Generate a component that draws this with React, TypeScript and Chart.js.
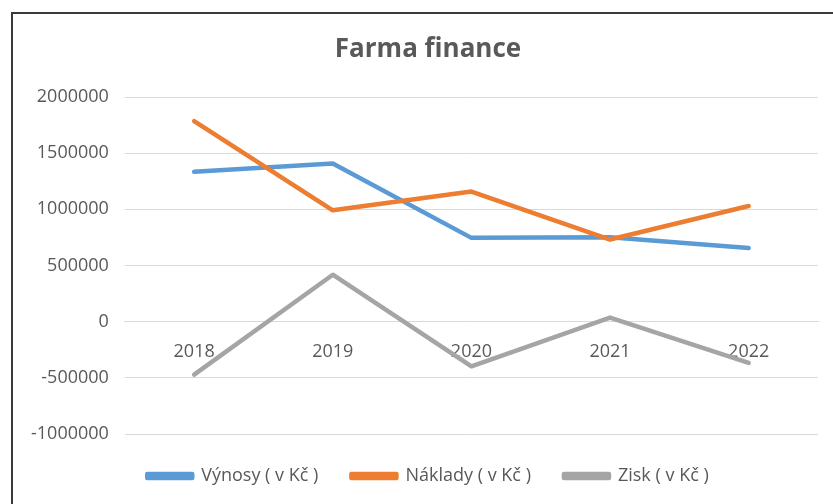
import React, { useEffect, useRef } from "react";
import { Chart, registerables } from "chart.js";

Chart.register(...registerables);

const categories = ["2018", "2019", "2020", "2021", "2022"];
const vynosy = [1334000, 1408000, 746000, 752000, 656000];
const naklady = [1785000, 991000, 1158000, 731000, 1030000];
const zisk = [-471000, 418000, -397000, 36000, -367000];
const seriesNames = ["Výnosy ( v Kč )", "Náklady ( v Kč )", "Zisk ( v Kč )"];
const yMin = -1000000;
const yMax = 2000000;
const yStep = 500000;
const titleText = "Farma finance";

const FONT = "'Open Sans', sans-serif";
const TEXT = "#595959";
const GRID = "#D9D9D9";

export default function App() {
  const ref = useRef<HTMLCanvasElement | null>(null);

  useEffect(() => {
    if (!ref.current) return;
    const colors = ["#5B9BD5", "#ED7D31", "#A5A5A5"];
    const values = [vynosy, naklady, zisk];
    const chart = new Chart(ref.current, {
      type: "line",
      data: {
        labels: categories,
        datasets: values.map((v, i) => ({
          label: seriesNames[i],
          data: v,
          borderColor: colors[i],
          backgroundColor: colors[i],
          borderWidth: 4.5,
          pointRadius: 0,
          pointHoverRadius: 0,
          borderJoinStyle: "round" as const,
          borderCapStyle: "round" as const,
          tension: 0,
          order: 2 - i,
        })),
      },
      options: {
        animation: false,
        responsive: false,
        maintainAspectRatio: false,
        layout: { padding: { left: 15, right: -8, top: 0, bottom: 9 } },
        plugins: {
          title: {
            display: true,
            text: titleText,
            color: TEXT,
            font: { family: FONT, size: 26, weight: "bold" },
            padding: { top: 34.4, bottom: 31.4 },
          },
          legend: {
            position: "bottom",
            labels: {
              boxWidth: 45,
              boxHeight: 4,
              padding: 33,
              color: TEXT,
              font: { family: FONT, size: 18 },
              sort: (a: any, b: any) => a.datasetIndex - b.datasetIndex,
            },
          },
          tooltip: { enabled: false },
        },
        scales: {
          x: {
            position: { y: 0 } as any,
            offset: true,
            grid: { display: false, drawTicks: false },
            border: { display: true, color: GRID, width: 1 },
            ticks: {
              color: TEXT,
              font: { family: FONT, size: 18 },
              padding: 19,
              maxRotation: 0,
            },
          },
          y: {
            min: yMin,
            max: yMax,
            grid: { color: GRID, drawTicks: false, lineWidth: 1 },
            border: { display: false },
            ticks: {
              stepSize: yStep,
              color: TEXT,
              font: { family: FONT, size: 18 },
              padding: 16,
              callback: (v: any) => String(v),
            },
          },
          yRight: {
            type: "linear",
            position: "right",
            display: true,
            grid: { display: false, drawTicks: false },
            border: { display: false },
            ticks: { display: false },
            afterFit: (scale: any) => {
              scale.width = 23;
            },
          },
        },
      },
    });
    return () => chart.destroy();
  }, []);

  return (
    <div
      style={{
        position: "fixed",
        left: 0,
        top: 0,
        width: 833,
        height: 504,
        background: "#fff",
        overflow: "hidden",
      }}
    >
      <canvas ref={ref} width={833} height={504} style={{ display: "block" }} />
      <div
        style={{
          position: "absolute",
          left: 11,
          top: 12,
          width: 900,
          height: 600,
          borderLeft: "2px solid #3a3a3a",
          borderTop: "2px solid #3a3a3a",
          pointerEvents: "none",
        }}
      />
    </div>
  );
}
